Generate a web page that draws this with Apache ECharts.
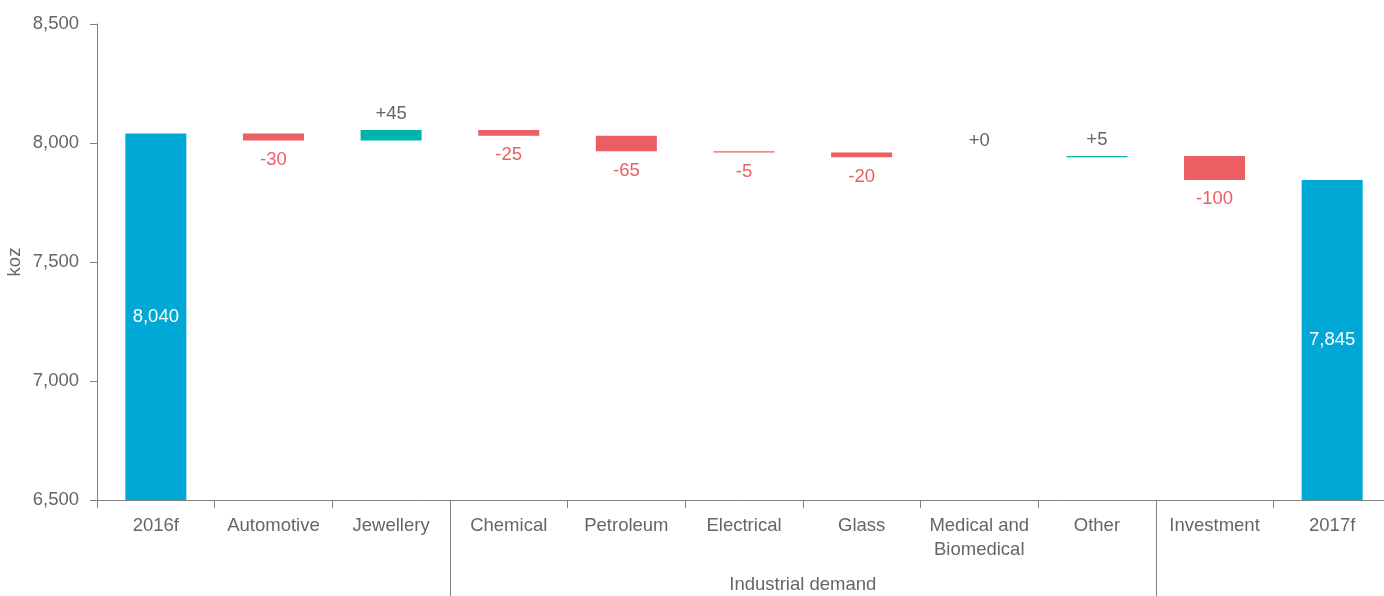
<!DOCTYPE html>
<html><head><meta charset="utf-8">
<script src="https://cdn.jsdelivr.net/npm/echarts@6/dist/echarts.min.js"></script>
<style>html,body{margin:0;padding:0;background:#fff}#c{width:1384px;height:596px}</style>
</head><body><div id="c"></div>
<script>
const categories = ['2016f','Automotive','Jewellery','Chemical','Petroleum','Electrical','Glass','Medical and\nBiomedical','Other','Investment','2017f'];
const totals = [8040, null, null, null, null, null, null, null, null, null, 7845];
const changes = [null, -30, 45, -25, -65, -5, -20, 0, 5, -100, null];
const yTicks = {min: 6500, max: 8500, interval: 500};
const groups = [{name: 'Industrial demand', from: 3, to: 8}];
const separators = [3, 9];

const BLUE = '#00a8d6', RED = '#eb5e61', TEAL = '#00b3ab', TXT = '#666666', AX = '#808080';
const FONT = 'Liberation Sans, Arial, sans-serif';
const FS = 18.5;

// running levels
const base = [], down = [], up = [], tot = [];
let level = 0;
categories.forEach((c, i) => {
  if (totals[i] != null) {
    level = totals[i];
    tot.push(totals[i]); base.push('-'); down.push('-'); up.push('-');
  } else {
    const d = changes[i];
    tot.push('-');
    if (d < 0) { base.push(level + d); down.push(-d); up.push('-'); }
    else { base.push(level); up.push(d); down.push('-'); }
    level += d;
  }
});

const chart = echarts.init(document.getElementById('c'));
const opt = {
  animation: false,
  textStyle: {fontFamily: FONT},
  grid: {left: 97, top: 24, width: 1294, height: 476, containLabel: false, outerBoundsMode: 'none'},
  xAxis: {
    type: 'category', data: categories,
    axisLine: {show: true, lineStyle: {color: AX, width: 1}},
    axisTick: {show: true, alignWithLabel: false, length: 8, lineStyle: {color: AX},
      interval: (idx) => separators.indexOf(idx) < 0},
    axisLabel: {color: TXT, fontSize: FS, margin: 14, lineHeight: 24, interval: 0, fontFamily: FONT}
  },
  yAxis: {
    type: 'value', min: yTicks.min, max: yTicks.max, interval: yTicks.interval,
    name: 'koz', nameLocation: 'middle', nameGap: 73, nameMoveOverlap: false,
    nameTextStyle: {color: TXT, fontSize: FS, fontFamily: FONT},
    axisLine: {show: true, lineStyle: {color: AX}},
    axisTick: {show: true, length: 7, lineStyle: {color: AX}},
    splitLine: {show: false},
    axisLabel: {color: TXT, fontSize: FS, margin: 18, fontFamily: FONT,
      formatter: v => v.toLocaleString('en-US')}
  },
  series: [
    {type: 'bar', stack: 'w', data: base, barWidth: 61, itemStyle: {color: 'transparent'}, silent: true},
    {type: 'bar', stack: 'w', data: down, barWidth: 61, itemStyle: {color: RED},
      label: {show: true, position: 'bottom', distance: 10, color: RED, fontSize: FS, fontFamily: FONT,
        formatter: p => '-' + p.value}},
    {type: 'bar', stack: 'w', data: up, barWidth: 61, itemStyle: {color: TEAL},
      label: {show: true, position: 'top', distance: 7, color: TXT, fontSize: FS, fontFamily: FONT,
        formatter: p => '+' + p.value}},
    {type: 'bar', data: tot, barWidth: 61, barGap: '-100%', itemStyle: {color: BLUE},
      label: {show: true, position: 'inside', color: '#ffffff', fontSize: FS, fontFamily: FONT,
        formatter: p => p.value.toLocaleString('en-US')}}
  ]
};
chart.setOption(opt);

// separators and group labels from axis scale
const g = [];
const bottomY = chart.convertToPixel({yAxisIndex: 0}, yTicks.min);
const x0 = chart.convertToPixel({xAxisIndex: 0}, 0);
const x1 = chart.convertToPixel({xAxisIndex: 0}, 1);
const step = x1 - x0;
separators.forEach(idx => {
  const x = Math.round(chart.convertToPixel({xAxisIndex: 0}, idx) - step / 2) + 0.5;
  g.push({type: 'line', shape: {x1: x, y1: bottomY, x2: x, y2: 596}, style: {stroke: AX, lineWidth: 1}});
});
groups.forEach(gr => {
  const xa = chart.convertToPixel({xAxisIndex: 0}, gr.from) - step / 2;
  const xb = chart.convertToPixel({xAxisIndex: 0}, gr.to) + step / 2;
  g.push({type: 'text', x: (xa + xb) / 2, y: bottomY + 85,
    style: {text: gr.name, fill: TXT, fontSize: FS, fontFamily: FONT, align: 'center', verticalAlign: 'middle'}});
});
chart.setOption({graphic: g});
</script></body></html>
